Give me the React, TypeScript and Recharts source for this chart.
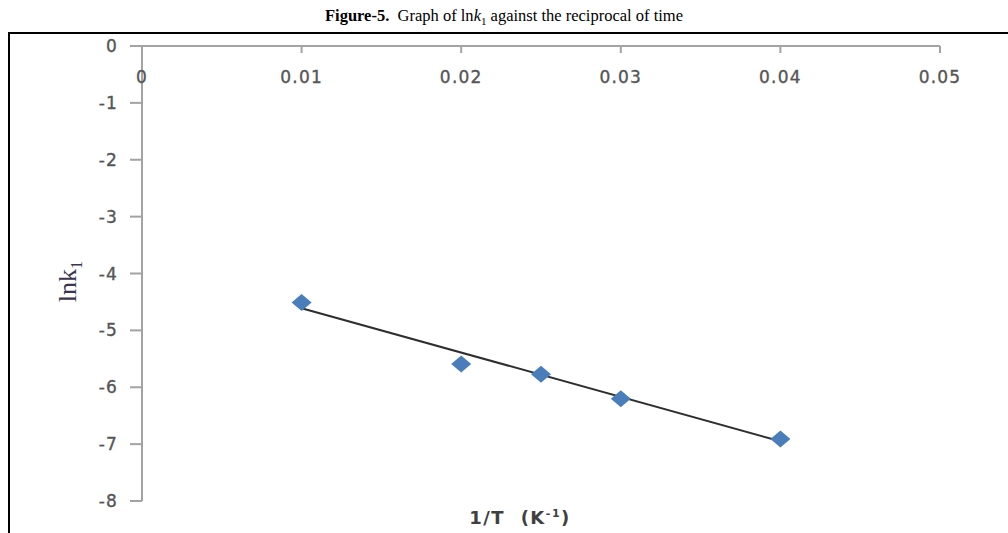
import React from 'react';
import { ScatterChart, Scatter, XAxis, YAxis } from 'recharts';

const xValues = [0.01, 0.02, 0.025, 0.03, 0.04];
const lnK1 = [-4.51, -5.59, -5.77, -6.2, -6.91];
const trendX = [0.01, 0.04];
const trendY = [-4.61, -6.95];
const xTicks = [0, 0.01, 0.02, 0.03, 0.04, 0.05];
const yTicks = [0, -1, -2, -3, -4, -5, -6, -7, -8];

const points = xValues.map((x, i) => ({ x, y: lnK1[i] }));
const trend = trendX.map((x, i) => ({ x, y: trendY[i] }));

const AXIS = '#a3a3a3';
const TICK_TEXT = '#555555';
const tickStyle = {
  fill: TICK_TEXT,
  fontSize: 17,
  letterSpacing: 1.2,
  stroke: TICK_TEXT,
  strokeWidth: 0.35,
  fontFamily: "'DejaVu Sans', Verdana, sans-serif",
};

const Diamond = (props: any) => {
  const { cx, cy } = props;
  if (cx == null || cy == null) return null;
  return (
    <polygon
      points={`${cx - 10},${cy} ${cx},${cy - 8.5} ${cx + 10},${cy} ${cx},${cy + 8.5}`}
      fill="#4A7EBB"
    />
  );
};

const NoShape = () => null;

const YLabel = (props: any) => {
  const { viewBox } = props;
  const cx = viewBox.x - 6;
  const cy = viewBox.y + viewBox.height / 2 + 8;
  return (
    <text
      x={cx}
      y={cy}
      transform={`rotate(-90, ${cx}, ${cy})`}
      textAnchor="middle"
      fontFamily="'Liberation Serif', 'Times New Roman', serif"
      fontSize={26}
      fill="#3a3550"
    >
      lnk<tspan fontSize={16} dy={6}>1</tspan>
    </text>
  );
};

export default function App() {
  return (
    <div style={{ position: 'absolute', left: 0, top: 0, width: 1008, height: 533, background: '#fff', overflow: 'hidden' }}>
      <div
        style={{
          position: 'absolute',
          left: 0,
          top: 6,
          width: 1008,
          textAlign: 'center',
          fontFamily: "'Liberation Serif', 'Times New Roman', serif",
          fontSize: 16.5,
          color: '#000',
          lineHeight: '20px',
        }}
      >
        <b>Figure-5.</b>&nbsp; Graph of ln<i>k</i><sub style={{ fontSize: 11, lineHeight: 0 }}>1</sub> against the reciprocal of time
      </div>
      <div
        style={{
          position: 'absolute',
          left: 8,
          top: 32,
          width: 1008,
          height: 520,
          borderTop: '2px solid #000',
          borderLeft: '2px solid #000',
        }}
      />
      <div style={{ position: 'absolute', left: 0, top: 0 }}>
        <ScatterChart width={1008} height={533} margin={{ top: 46, right: 68, bottom: 32, left: 82 }}>
          <XAxis
            type="number"
            dataKey="x"
            orientation="top"
            mirror
            domain={[0, 0.05]}
            ticks={xTicks}
            tickFormatter={(v: number) => (v === 0 ? '0' : v.toFixed(2))}
            axisLine={{ stroke: AXIS, strokeWidth: 2 }}
            tickLine={{ stroke: AXIS, strokeWidth: 2 }}
            tickSize={7}
            tickMargin={18}
            tick={tickStyle}
            allowDataOverflow
          />
          <YAxis
            type="number"
            dataKey="y"
            width={60}
            domain={[-8, 0]}
            ticks={yTicks}
            axisLine={{ stroke: AXIS, strokeWidth: 2 }}
            tickLine={{ stroke: AXIS, strokeWidth: 2 }}
            tickSize={12}
            tickMargin={12}
            tick={tickStyle}
            label={{ content: YLabel }}
            allowDataOverflow
          />
          <Scatter
            data={trend}
            line={{ stroke: '#2e2e2e', strokeWidth: 2 }}
            shape={NoShape}
            isAnimationActive={false}
          />
          <Scatter data={points} shape={Diamond} isAnimationActive={false} />
        </ScatterChart>
      </div>
      <div
        style={{
          position: 'absolute',
          left: 400,
          top: 507,
          width: 240,
          textAlign: 'center',
          fontFamily: "'DejaVu Sans', Verdana, sans-serif",
          fontSize: 18,
          letterSpacing: 1.5,
          fontWeight: 'bold',
          color: '#404040',
          whiteSpace: 'pre',
        }}
      >
        1/T  (K<sup style={{ fontSize: 11, lineHeight: 0 }}>-1</sup>)
      </div>
    </div>
  );
}
